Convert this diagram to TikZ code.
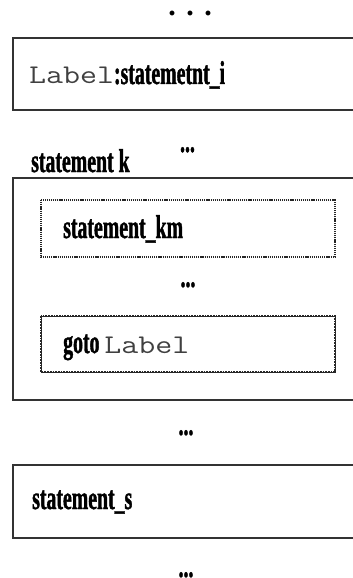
\documentclass[tikz,border=0pt]{standalone}
\usepackage{fontspec}
\setmainfont{Liberation Serif}
\newfontfamily\condbf[FakeStretch=0.6,FakeBold=1.2]{Liberation Serif Bold}
\newfontfamily\codefont[FakeStretch=1.22]{Latin Modern Mono}
\begin{document}
\begin{tikzpicture}[x=1pt,y=-1pt,
  frame/.style={draw=black!80,line width=2pt},
  innerdot/.style={draw=black!85,line width=1.5pt,dash pattern=on 1.2pt off 0.9pt},
  innergoto/.style={draw=black!85,line width=1.7pt,densely dotted},
  stmt/.style={inner sep=0pt,anchor=base west,font=\condbf\fontsize{33}{33}\selectfont},
  ell/.style={inner sep=0pt,anchor=base,font=\condbf\fontsize{33}{33}\selectfont},
  codesize/.style={}]
\useasboundingbox (0,0) rectangle (353,578);
\clip (0,0) rectangle (353,578);
\fill[white] (0,0) rectangle (353,578);

% top ellipsis
\node[inner sep=0pt,anchor=base,font=\bfseries\fontsize{30}{30}\selectfont] (dtop) at (190,16)
  {.\hspace{10.5pt}.\hspace{10.5pt}.};

% labelled statement
\draw[frame] (13,38) rectangle (362,110);
\node[stmt] (li) at (29,84)
  {{\codefont\fontsize{27}{27}\selectfont\color{black!75}Label}:statemetnt\_i};

\node[ell] (d1) at (187.5,152) {...};

% compound statement k
\node[stmt] (sk) at (31,172) {statement k};
\draw[frame] (13,178) rectangle (362,400);
\draw[innerdot] (41,200) rectangle (335,257);
\node[stmt] (skm) at (63,238) {statement\_km};
\node[ell] (d2) at (188,287) {...};
\draw[draw=black!85,line width=0.8pt] (41,316) rectangle (335,372);
\draw[innergoto] (41,316) rectangle (335,372);
\node[stmt] (gt) at (63,353)
  {goto {\codefont\fontsize{27}{27}\selectfont\color{black!75}Label}};

\node[ell] (d3) at (186,435) {...};

% statement s
\draw[frame] (13,465) rectangle (362,538);
\node[stmt] (ss) at (32,509) {statement\_s};

\node[ell] (d4) at (186,577) {...};
\end{tikzpicture}
\end{document}
